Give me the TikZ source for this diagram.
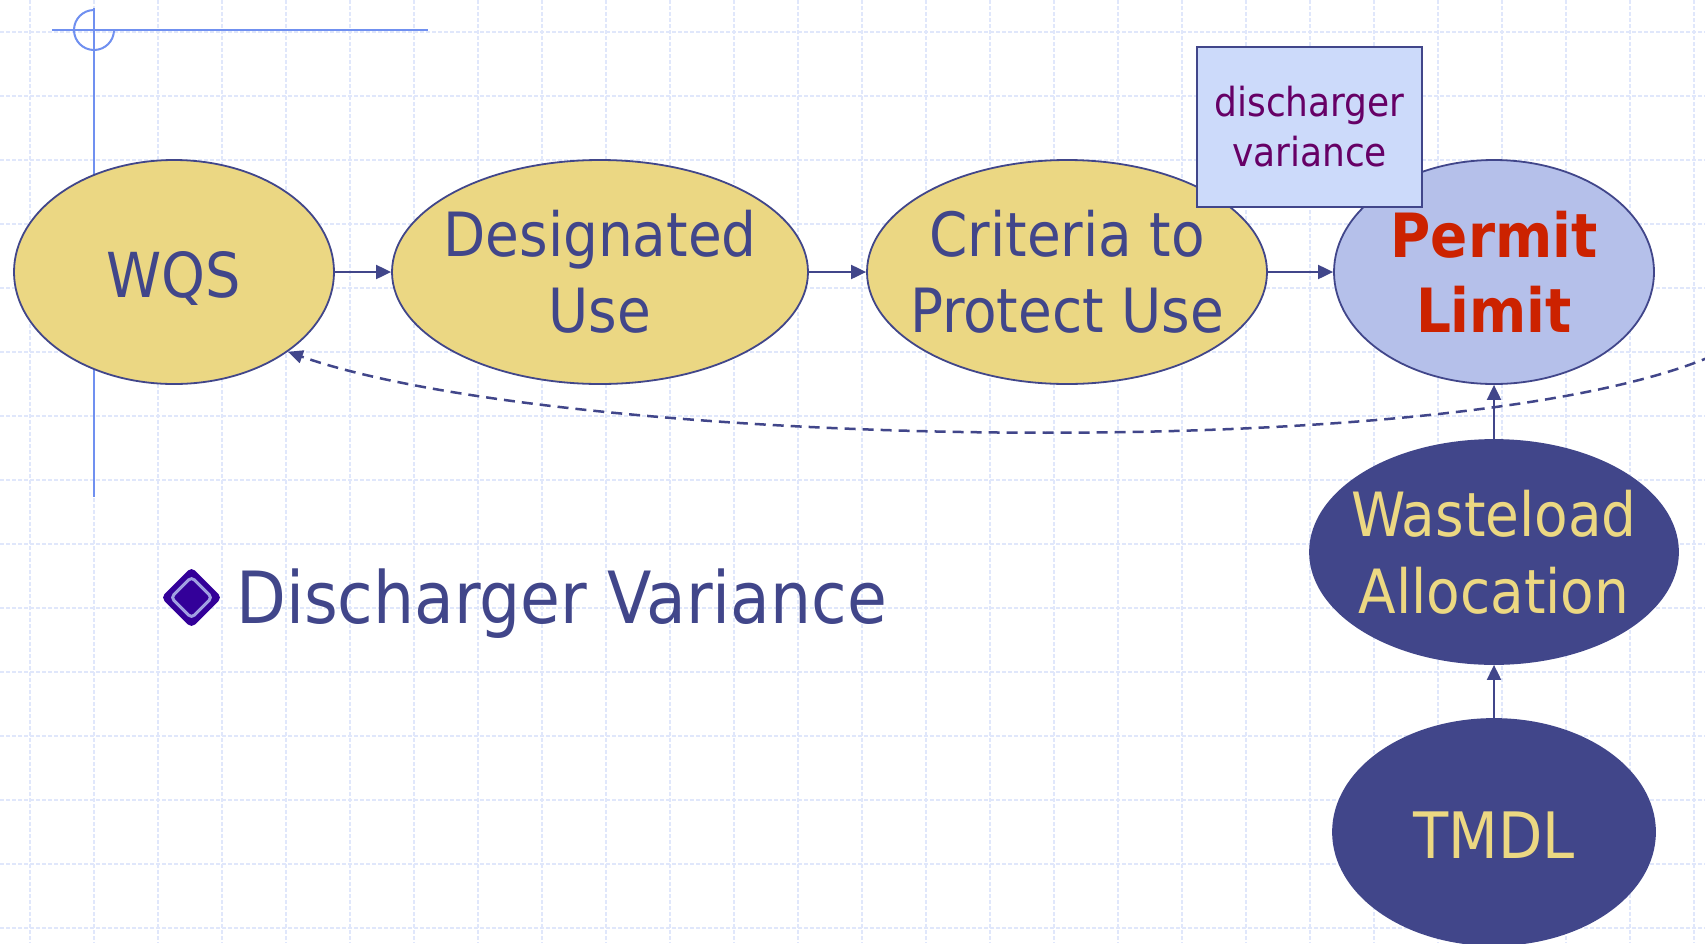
\documentclass[tikz,border=0pt]{standalone}
\usepackage{fontspec}
\setmainfont{DejaVu Sans Condensed}
\usetikzlibrary{shapes.geometric,arrows.meta}
\definecolor{yfill}{RGB}{235,215,131}
\definecolor{dblue}{RGB}{65,70,138}
\definecolor{pfill}{RGB}{181,192,234}
\definecolor{bfill}{RGB}{204,218,250}
\definecolor{purp}{RGB}{102,0,102}
\definecolor{redt}{RGB}{204,34,0}
\definecolor{ytext}{RGB}{236,216,130}
\definecolor{gridc}{RGB}{224,231,251}
\definecolor{crossc}{RGB}{112,144,240}
\definecolor{bdark}{RGB}{51,0,153}
\definecolor{blav}{RGB}{160,160,225}
\tikzset{
  oval/.style={ellipse, draw=dblue, line width=1.8pt, inner sep=0pt},
  yoval/.style={oval, fill=yfill},
  bigtext/.style={font=\fontsize{61}{76}\selectfont, align=center, inner sep=0pt},
  flow/.style={draw=dblue, line width=2pt, -{Triangle[length=15pt,width=14pt]}},
  back/.style={draw=dblue, line width=2.5pt, dash pattern=on 11pt off 7pt, -{Triangle[length=15pt,width=13pt]}},
  gridline/.style={draw=gridc, line width=1.3pt, dash pattern=on 4pt off 2pt},
  crossline/.style={draw=crossc, line width=2pt}
}
\begin{document}
\begin{tikzpicture}[x=1pt,y=-1pt]
\useasboundingbox[fill=white] (0,0) rectangle (1705,943);
% grid
\foreach \x in {30,94,...,1700} \draw[gridline] (\x,0) -- (\x,943);
\foreach \y in {32,96,...,940} \draw[gridline] (0,\y) -- (1705,\y);
% crosshair
\draw[crossline] (52,30) -- (428,30);
\draw[crossline] (94,8) -- (94,497);
\draw[crossline] (114,30) arc[start angle=0, end angle=270, radius=20];
% ovals
\node[yoval, minimum width=320pt, minimum height=224pt,
  label={[bigtext, text=dblue, text height=45pt, text depth=0pt, font=\fontsize{62}{76}\selectfont, yshift=-2.5pt]center:WQS}] (wqs) at (174,272) {};
\node[yoval, minimum width=416pt, minimum height=224pt,
  label={[bigtext, text=dblue]center:Designated\\Use}] (du) at (600,272) {};
\node[yoval, minimum width=400pt, minimum height=224pt,
  label={[bigtext, text=dblue]center:Criteria to\\Protect Use}] (cr) at (1067,272) {};
\node[oval, fill=pfill, minimum width=320pt, minimum height=224pt,
  label={[bigtext, text=redt, font=\fontsize{61}{75}\selectfont\bfseries]center:Permit\\Limit}] (pl) at (1494,272) {};
\node[oval, fill=dblue, minimum width=368pt, minimum height=224pt,
  label={[bigtext, text=ytext, font=\fontsize{61}{77}\selectfont]center:Wasteload\\Allocation}] (wla) at (1494,552) {};
\node[oval, fill=dblue, minimum width=322pt, minimum height=226pt,
  label={[bigtext, text=ytext, text height=47pt, text depth=0pt, font=\fontsize{64}{76}\selectfont, yshift=-3pt]center:TMDL}] (tmdl) at (1494,832) {};
% connectors
\draw[flow] (wqs.east) -- (du.west);
\draw[flow] (du.east) -- (cr.west);
\draw[flow] (cr.east) -- (pl.west);
\draw[flow] (wla.north) -- (pl.south);
\draw[flow] (tmdl.north) -- (wla.south);
\coordinate (dfree) at (1712,356);
\draw[back] (dfree) .. controls (1450,468) and (560,448) .. (wqs.-35);
% variance box
\node[draw=dblue, fill=bfill, line width=1.8pt, minimum width=225pt, minimum height=160pt,
  inner sep=0pt, align=center, text=purp, font=\fontsize{40}{50}\selectfont] (dv) at (1309.5,127) {discharger\\variance};
% bullet
\fill[bdark, rounded corners=5pt] (191.5,567) -- (222,597.5) -- (191.5,628) -- (161,597.5) -- cycle;
\draw[blav, line width=3pt, rounded corners=4pt] (191.5,577) -- (212,597.5) -- (191.5,618) -- (171,597.5) -- cycle;
\node[anchor=base west, inner sep=0pt, text=dblue, font=\fontsize{72}{86}\selectfont] (dvt) at (236,623) {Discharger Variance};
\end{tikzpicture}
\end{document}
